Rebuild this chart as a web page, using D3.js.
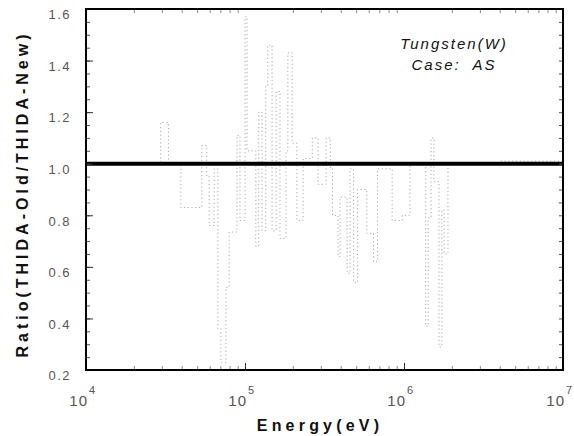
<!DOCTYPE html>
<html><head><meta charset="utf-8">
<script src="https://cdn.jsdelivr.net/npm/d3@7"></script>
<style>
html,body{margin:0;padding:0;background:#fff;}
svg{display:block;}
</style></head>
<body>
<svg id="c" width="574" height="436"></svg>
<script>
// ---- data ----
const energy = [1.0e4,1.6e4,2.95e4,3.3e4,3.95e4,5.35e4,5.75e4,5.95e4,6.4e4,6.75e4,7.05e4,7.6e4,7.95e4,
  8.9e4,9.3e4,1.0e5,1.03e5,1.17e5,1.22e5,1.28e5,1.35e5,1.39e5,1.48e5,1.57e5,1.66e5,1.81e5,1.86e5,1.98e5,
  2.12e5,2.32e5,2.65e5,2.88e5,3.24e5,3.44e5,3.55e5,3.85e5,3.96e5,4.39e5,4.58e5,4.82e5,5.11e5,5.83e5,
  6.43e5,6.82e5,8.42e5,9.75e5,1.09e6,1.37e6,1.42e6,1.48e6,1.54e6,1.66e6,1.73e6,1.79e6,1.89e6,4.0e6,1.0e7];
const ratio = [1.00,1.00,1.16,1.00,0.83,1.07,0.95,0.76,0.98,0.36,0.23,0.52,0.735,
  1.11,0.78,1.57,1.05,0.68,1.20,0.74,1.30,1.46,0.74,1.28,0.71,1.05,1.43,1.08,
  0.78,1.02,1.10,0.92,1.10,0.98,0.80,0.64,0.87,0.575,0.98,0.54,0.90,0.73,
  0.62,0.98,0.78,0.80,1.00,0.37,0.79,1.10,0.93,0.29,0.82,0.65,1.00,1.01,1.01];
const refLine = [1.0, 1.0];
const refEnergy = [1e4, 1e7];
const yTicks = [0.2,0.4,0.6,0.8,1.0,1.2,1.4,1.6];
const yTickLabels = ["0.2","0.4","0.6","0.8","1.0","1.2","1.4","1.6"];
const xTicks = [1e4,1e5,1e6,1e7];
const xTickExp = ["4","5","6","7"];
const annot = ["Tungsten(W)","Case:  AS"];

// ---- layout ----
const svg = d3.select("#c");
const L=86, R=563, T=9, B=370;
const x = d3.scaleLog().domain([1e4,1e7]).range([L,R]);
const y = d3.scaleLinear().domain([0.2,1.6]).range([B,T]);

// data step line (faint dotted)
const pts = energy.map((e,i)=>[e,ratio[i]]);
svg.append("path")
  .attr("d", d3.line().x(d=>x(d[0])).y(d=>y(d[1])).curve(d3.curveStepAfter)(pts))
  .attr("fill","none").attr("stroke","#a8a8a8").attr("stroke-width",1)
  .attr("stroke-dasharray","1.2,2.6");

// reference thick line
svg.append("path")
  .attr("d", d3.line().x((d,i)=>x(refEnergy[i])).y(d=>y(d))(refLine))
  .attr("fill","none").attr("stroke","#000").attr("stroke-width",4);

// minor ticks y (every 0.05) both sides
const yMinor = d3.range(0.25,1.6,0.05).map(v=>+v.toFixed(2));
svg.append("g").attr("transform",`translate(${L},0)`)
  .call(d3.axisLeft(y).tickValues(yMinor).tickSize(-4).tickFormat(""))
  .call(g=>g.select(".domain").remove())
  .selectAll("line").attr("stroke","#555");
svg.append("g").attr("transform",`translate(${R},0)`)
  .call(d3.axisRight(y).tickValues(yMinor).tickSize(-4).tickFormat(""))
  .call(g=>g.select(".domain").remove())
  .selectAll("line").attr("stroke","#555");

// minor ticks x (log) top and bottom
const xMinor = [];
[1e4,1e5,1e6].forEach(d=>{for(let k=2;k<=9;k++) xMinor.push(d*k);});
svg.append("g").attr("transform",`translate(0,${B})`)
  .call(d3.axisBottom(x).tickValues(xMinor).tickSize(-4).tickFormat(""))
  .call(g=>g.select(".domain").remove())
  .selectAll("line").attr("stroke","#888");
svg.append("g").attr("transform",`translate(0,${T})`)
  .call(d3.axisTop(x).tickValues(xMinor).tickSize(-4).tickFormat(""))
  .call(g=>g.select(".domain").remove())
  .selectAll("line").attr("stroke","#888");

// y major axis with labels
const yAx = svg.append("g").attr("transform",`translate(${L},0)`)
  .call(d3.axisLeft(y).tickValues(yTicks).tickSize(-7).tickPadding(15)
        .tickFormat((d,i)=>yTickLabels[i]));
yAx.select(".domain").remove();
yAx.selectAll("line").attr("stroke","#333");
yAx.selectAll("text").attr("font-family","Liberation Sans, Arial, sans-serif")
  .attr("font-size",13).attr("fill","#555").attr("dy","0.75em")
  .style("letter-spacing","1.5px");

// x major axis
const xAx = svg.append("g").attr("transform",`translate(0,${B})`)
  .call(d3.axisBottom(x).tickValues(xTicks).tickSize(-7).tickFormat(""));
xAx.select(".domain").remove();
xAx.selectAll("line").attr("stroke","#333");
const xl = svg.append("g").selectAll("g").data(xTicks).join("g")
  .attr("transform",d=>`translate(${x(d)},0)`);
xl.append("text").attr("x",2).attr("y",406).attr("text-anchor","end")
  .attr("font-family","Liberation Sans, Arial, sans-serif").attr("font-size",15)
  .attr("fill","#555").style("letter-spacing","1px").text("10");
xl.append("text").attr("x",3).attr("y",394).attr("text-anchor","start")
  .attr("font-family","Liberation Sans, Arial, sans-serif").attr("font-size",11)
  .attr("fill","#555").text((d,i)=>xTickExp[i]);

// frame
svg.append("rect").attr("x",L).attr("y",T).attr("width",R-L).attr("height",B-T)
  .attr("fill","none").attr("stroke","#000").attr("stroke-width",2);

// axis titles
svg.append("text").attr("x",320).attr("y",431).attr("text-anchor","middle")
  .attr("font-family","Liberation Sans, Arial, sans-serif").attr("font-weight","bold")
  .attr("font-size",16).style("letter-spacing","4.2px").attr("fill","#111").text("Energy(eV)");
svg.append("text").attr("transform","translate(28,194) rotate(-90)").attr("text-anchor","middle")
  .attr("font-family","Liberation Sans, Arial, sans-serif").attr("font-weight","bold")
  .attr("font-size",16).style("letter-spacing","4px").attr("fill","#111")
  .text("Ratio(THIDA-Old/THIDA-New)");

// annotation
svg.append("g").selectAll("text").data(annot).join("text")
  .attr("x",454).attr("y",(d,i)=>49+i*21).attr("text-anchor","middle")
  .attr("font-family","Liberation Sans, Arial, sans-serif").attr("font-style","italic")
  .attr("font-size",15).style("letter-spacing","2px").attr("fill","#111")
  .attr("xml:space","preserve").style("white-space","pre").text(d=>d);
</script>
</body></html>
